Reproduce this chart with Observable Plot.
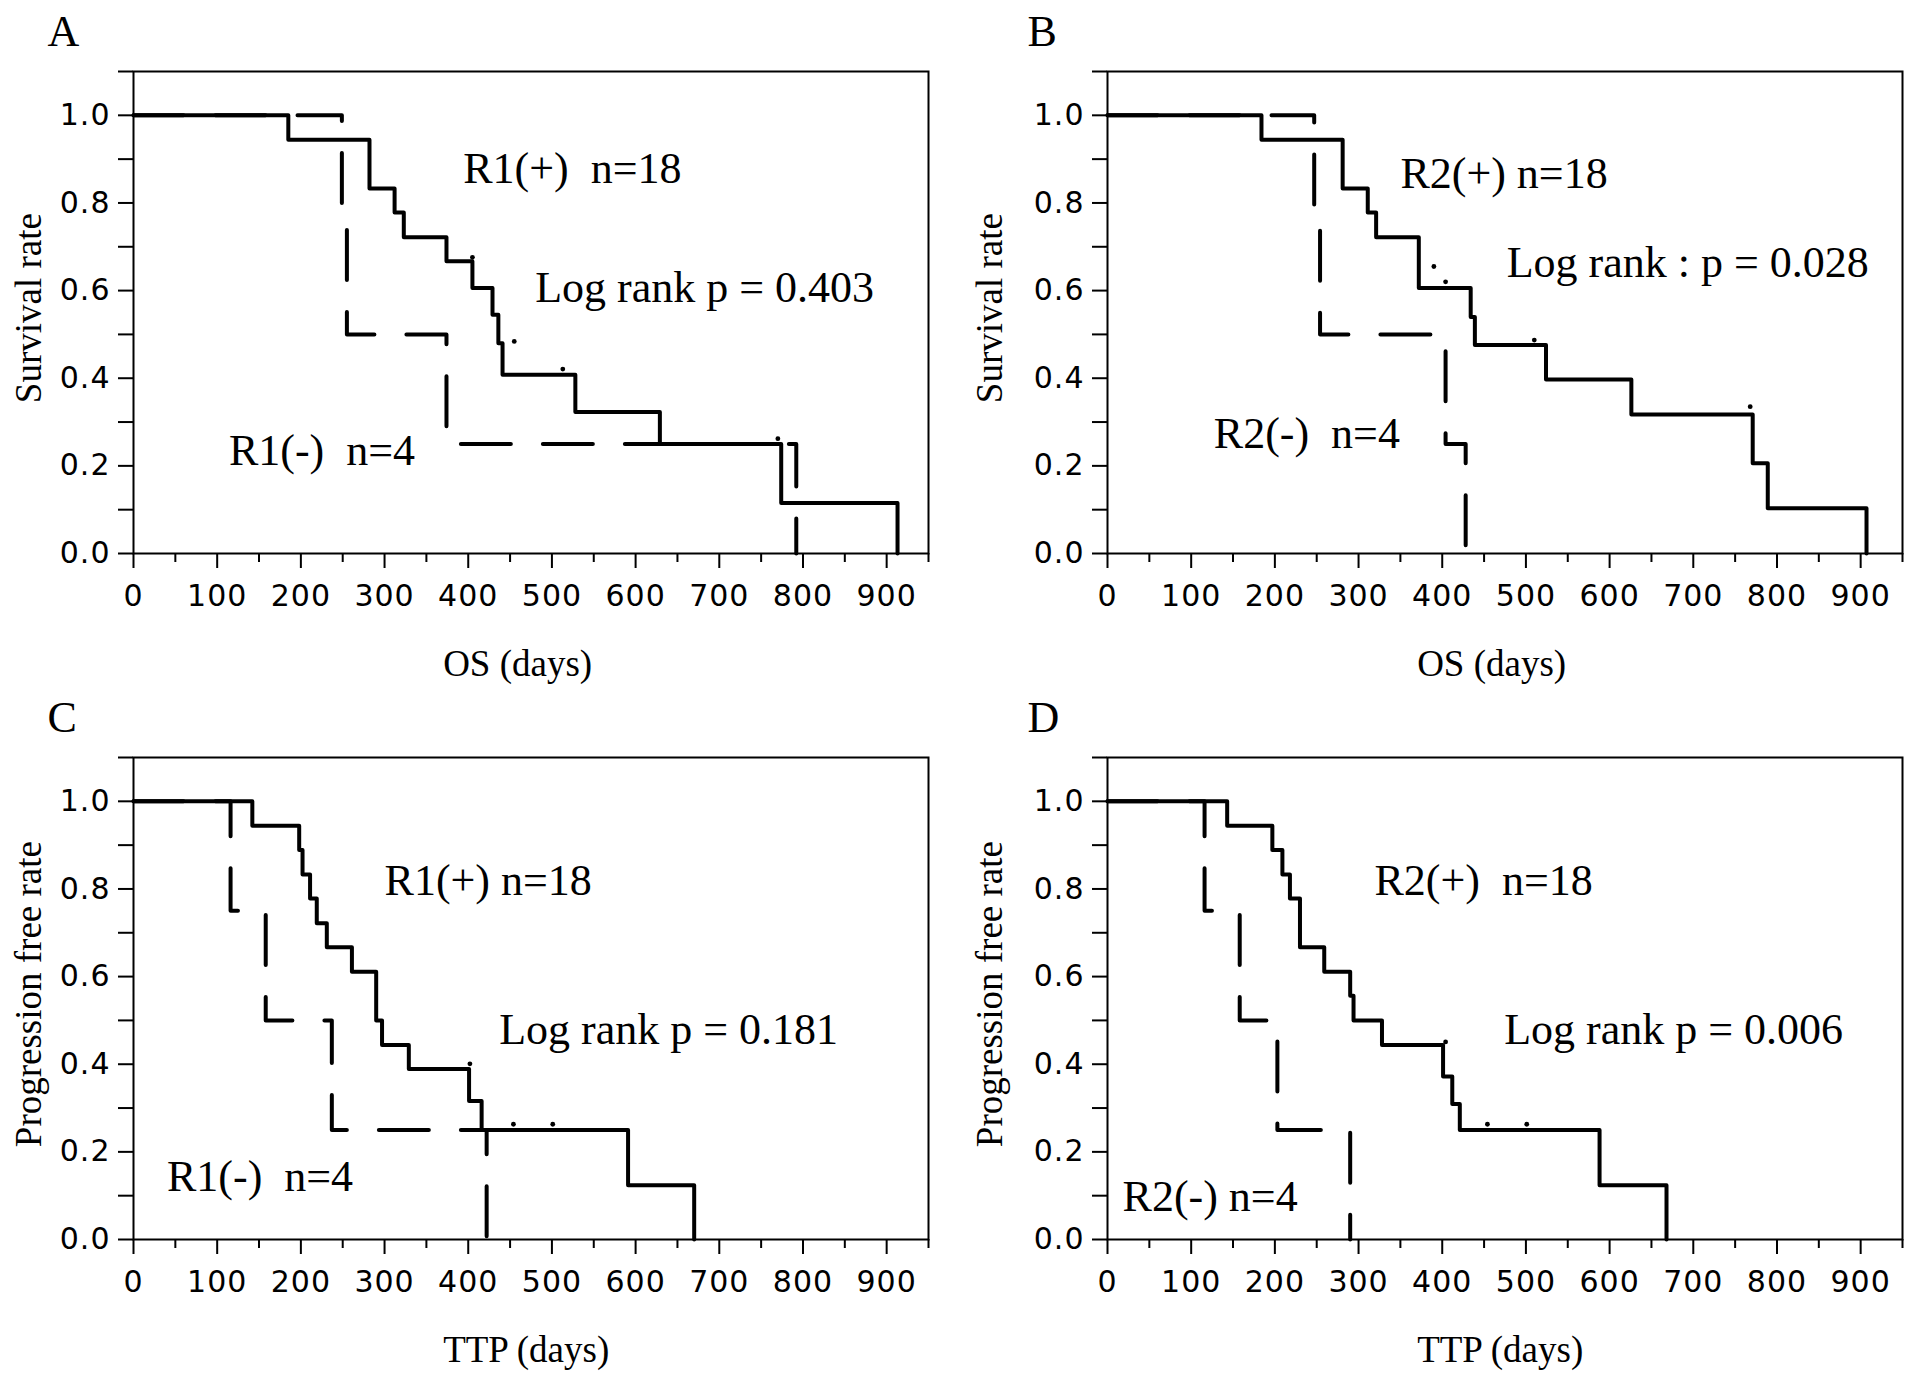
<!DOCTYPE html>
<html>
<head>
<meta charset="utf-8">
<script src="https://cdn.jsdelivr.net/npm/d3@7"></script>
<script src="https://cdn.jsdelivr.net/npm/@observablehq/plot@0.6"></script>
<style>
  body { margin: 0; background: #fff; }
  #chart { position: relative; width: 1913px; height: 1383px; background: #fff; }
  .panel { position: absolute; }
</style>
</head>
<body>
<div id="chart"></div>
<script>
// axis ticks
const xTicks = [0, 100, 200, 300, 400, 500, 600, 700, 800, 900];
const xMinor = [50, 150, 250, 350, 450, 550, 650, 750, 850, 950];
const yTicks = [0, 0.1, 0.2, 0.3, 0.4, 0.5, 0.6, 0.7, 0.8, 0.9, 1.0, 1.1];
const yLabels = ["0.0", "", "0.2", "", "0.4", "", "0.6", "", "0.8", "", "1.0", ""];

// A: OS by R1
const aPosDays = [0, 185, 282, 312, 323, 374, 405, 429, 436, 441, 528, 629, 774, 913];
const aPosSurv = [1, 0.944, 0.833, 0.778, 0.722, 0.667, 0.606, 0.545, 0.48, 0.408, 0.323, 0.25, 0.115, 0];
const aNegDays = [0, 249, 255, 374, 792];
const aNegSurv = [1, 0.75, 0.5, 0.25, 0];
const aCensDays = [405, 455, 513, 770];
const aCensSurv = [0.676, 0.484, 0.421, 0.262];

// B: OS by R2
const bPosDays = [0, 184, 281, 311, 321, 372, 434, 439, 524, 626, 771, 789, 907];
const bPosSurv = [1, 0.944, 0.833, 0.778, 0.722, 0.606, 0.54, 0.476, 0.397, 0.317, 0.206, 0.103, 0];
const bNegDays = [0, 247, 254, 404, 428];
const bNegSurv = [1, 0.75, 0.5, 0.25, 0];
const bCensDays = [390, 404, 510, 768];
const bCensSurv = [0.655, 0.62, 0.487, 0.335];

// C: TTP by R1
const cPosDays = [0, 142, 198, 202, 211, 219, 231, 261, 290, 297, 329, 401, 416, 591, 670];
const cPosSurv = [1, 0.944, 0.889, 0.833, 0.778, 0.722, 0.667, 0.611, 0.5, 0.444, 0.389, 0.316, 0.25, 0.124, 0];
const cNegDays = [0, 116, 158, 237, 422];
const cNegSurv = [1, 0.75, 0.5, 0.25, 0];
const cCensDays = [402, 454, 501];
const cCensSurv = [0.401, 0.263, 0.263];

// D: TTP by R2
const dPosDays = [0, 143, 197, 209, 218, 230, 259, 290, 294, 328, 401, 412, 421, 588, 668];
const dPosSurv = [1, 0.944, 0.889, 0.833, 0.778, 0.667, 0.611, 0.556, 0.5, 0.444, 0.372, 0.309, 0.25, 0.124, 0];
const dNegDays = [0, 116, 158, 203, 290];
const dNegSurv = [1, 0.75, 0.5, 0.25, 0];
const dCensDays = [404, 454, 501];
const dCensSurv = [0.451, 0.263, 0.263];

const zip = (xs, ys) => xs.map((x, i) => ({x, y: ys[i]}));

const panels = [
  {letter: "A", left: 0, top: 0, ml: 133, mr: 28, dx: -104,
   pos: zip(aPosDays, aPosSurv), neg: zip(aNegDays, aNegSurv), cens: zip(aCensDays, aCensSurv),
   notes: [{x: 394, y: 0.845, t: "R1(+)  n=18"}, {x: 480, y: 0.573, t: "Log rank p = 0.403"}, {x: 114, y: 0.202, t: "R1(-)  n=4"}],
   xl: "OS (days)", yl: "Survival rate"},
  {letter: "B", left: 956, top: 0, ml: 151, mr: 10, dx: -117,
   pos: zip(bPosDays, bPosSurv), neg: zip(bNegDays, bNegSurv), cens: zip(bCensDays, bCensSurv),
   notes: [{x: 350, y: 0.835, t: "R2(+) n=18"}, {x: 477, y: 0.63, t: "Log rank : p = 0.028"}, {x: 127, y: 0.24, t: "R2(-)  n=4"}],
   xl: "OS (days)", yl: "Survival rate"},
  {letter: "C", left: 0, top: 686, ml: 133, mr: 28, dx: -104,
   pos: zip(cPosDays, cPosSurv), neg: zip(cNegDays, cNegSurv), cens: zip(cCensDays, cCensSurv),
   notes: [{x: 300, y: 0.787, t: "R1(+) n=18"}, {x: 437, y: 0.446, t: "Log rank p = 0.181"}, {x: 40, y: 0.111, t: "R1(-)  n=4"}],
   xl: "TTP (days)", yl: "Progression free rate"},
  {letter: "D", left: 956, top: 686, ml: 151, mr: 10, dx: -117,
   pos: zip(dPosDays, dPosSurv), neg: zip(dNegDays, dNegSurv), cens: zip(dCensDays, dCensSurv),
   notes: [{x: 319, y: 0.787, t: "R2(+)  n=18"}, {x: 474, y: 0.446, t: "Log rank p = 0.006"}, {x: 18, y: 0.066, t: "R2(-) n=4"}],
   xl: "TTP (days)", yl: "Progression free rate"}
];

const serif = "Liberation Serif, Times New Roman, serif";

for (const p of panels) {
  const chart = Plot.plot({
    width: 956,
    height: 690,
    marginLeft: p.ml,
    marginRight: p.mr,
    marginTop: 71,
    marginBottom: 137,
    x: {domain: [0, 950]},
    y: {domain: [0, 1.1]},
    style: {fontFamily: "DejaVu Sans", background: "transparent", overflow: "visible", color: "#000"},
    marks: [
      Plot.frame({stroke: "#000", strokeWidth: 2}),
      Plot.axisX(xTicks, {tickSize: 15, tickPadding: 16, strokeWidth: 2, fontSize: 30, label: null}),
      Plot.axisX(xMinor, {tickSize: 9, strokeWidth: 2, tickFormat: () => "", label: null}),
      Plot.axisY(yTicks, {tickSize: 15, tickPadding: 8, strokeWidth: 2, fontSize: 30,
        tickFormat: d => yLabels[Math.round(d * 10)], label: null}),
      Plot.line(p.neg, {x: "x", y: "y", curve: "step-after", stroke: "#000", strokeWidth: 4,
        strokeDasharray: "50,32"}),
      Plot.line(p.pos, {x: "x", y: "y", curve: "step-after", stroke: "#000", strokeWidth: 4}),
      Plot.dot(p.cens, {x: "x", y: "y", r: 2.4, fill: "#000", stroke: null}),
      Plot.text(p.notes, {x: "x", y: "y", text: "t", textAnchor: "start", lineAnchor: "bottom",
        fontSize: 44, fontFamily: serif, fill: "#000"}),
      Plot.text([p.xl], {x: () => 370, frameAnchor: "bottom", dy: 111, textAnchor: "start",
        lineAnchor: "middle", fontSize: 37, fontFamily: serif, fill: "#000"}),
      Plot.text([p.yl], {y: () => 0.56, frameAnchor: "left", dx: p.dx, rotate: -90,
        textAnchor: "middle", lineAnchor: "middle", fontSize: 37, fontFamily: serif, fill: "#000"}),
      Plot.text([p.letter], {frameAnchor: "top-left", dx: p.letter === "A" || p.letter === "C" ? -86 : -80, dy: -26,
        textAnchor: "start", lineAnchor: "bottom", fontSize: 44, fontFamily: serif, fill: "#000"})
    ]
  });
  d3.select(chart).selectAll("g[aria-label$='tick label'] text").style("letter-spacing", "1px");
  d3.select("#chart").append("div")
    .attr("class", "panel")
    .style("left", p.left + "px")
    .style("top", p.top + "px")
    .append(() => chart);
}
</script>
</body>
</html>
